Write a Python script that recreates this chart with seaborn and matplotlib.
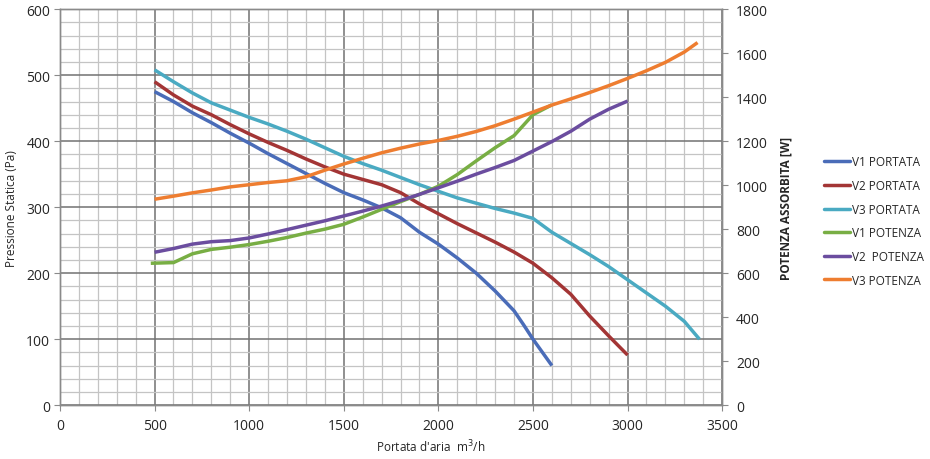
import numpy as np
import pandas as pd
import matplotlib
matplotlib.use("Agg")
import matplotlib.pyplot as plt
import seaborn as sns
from matplotlib.ticker import MultipleLocator

# portata (m3/h) - pressione statica (Pa)
v1_portata_x = [500, 600, 700, 800, 900, 1000, 1100, 1200, 1300, 1400, 1500, 1600, 1700, 1800, 1900,
                2000, 2100, 2200, 2300, 2400, 2450, 2500, 2600]
v1_portata_y = [475, 460, 443, 428, 412, 397, 381, 366, 351, 336, 322, 311, 299, 284, 262,
                244, 223, 200, 173, 143, 122, 100, 60]

v2_portata_x = [500, 600, 700, 800, 900, 1000, 1100, 1200, 1300, 1400, 1500, 1600, 1700, 1800, 1900,
                2000, 2100, 2200, 2300, 2400, 2500, 2600, 2700, 2800, 2900, 3000]
v2_portata_y = [490, 470, 453, 440, 425, 411, 398, 386, 373, 361, 350, 342, 334, 322, 305,
                290, 275, 261, 247, 232, 215, 193, 168, 135, 105, 76]

v3_portata_x = [500, 600, 700, 800, 900, 1000, 1100, 1200, 1300, 1400, 1500, 1600, 1700, 1800, 1900,
                2000, 2100, 2200, 2300, 2400, 2500, 2600, 2700, 2800, 2900, 3000, 3100, 3200, 3300, 3380]
v3_portata_y = [508, 490, 473, 458, 447, 436, 426, 415, 403, 390, 377, 366, 356, 345, 334,
                324, 314, 306, 298, 291, 283, 262, 245, 228, 210, 190, 170, 150, 127, 100]

# portata (m3/h) - potenza assorbita (W)
v1_potenza_x = [480, 600, 700, 800, 900, 1000, 1100, 1200, 1300, 1400, 1500, 1600, 1700, 1800, 1900,
                2000, 2100, 2200, 2300, 2400, 2500, 2600]
v1_potenza_y = [645, 648, 688, 708, 718, 730, 745, 762, 782, 800, 822, 855, 890, 925, 958,
                995, 1048, 1110, 1170, 1225, 1320, 1365]

v2_potenza_x = [500, 600, 700, 800, 900, 1000, 1100, 1200, 1300, 1400, 1500, 1600, 1700, 1800, 1900,
                2000, 2100, 2200, 2300, 2400, 2500, 2600, 2700, 2800, 2900, 3000]
v2_potenza_y = [695, 712, 732, 743, 748, 760, 778, 798, 818, 838, 860, 882, 905, 930, 958,
                988, 1018, 1050, 1080, 1112, 1155, 1198, 1245, 1300, 1345, 1382]

v3_potenza_x = [500, 600, 700, 800, 900, 1000, 1100, 1200, 1300, 1400, 1500, 1600, 1700, 1800, 1900,
                2000, 2100, 2200, 2300, 2400, 2500, 2600, 2700, 2800, 2900, 3000, 3100, 3200, 3300, 3370]
v3_potenza_y = [936, 950, 965, 978, 992, 1002, 1012, 1020, 1038, 1068, 1096, 1122, 1147, 1168, 1187,
                1203, 1222, 1244, 1270, 1300, 1332, 1364, 1392, 1421, 1452, 1485, 1520, 1558, 1605, 1648]

sns.set_style("white")
plt.rcParams['font.family'] = ['Open Sans', 'DejaVu Sans']

fig = plt.figure(figsize=(9.3, 4.6), dpi=100)
ax = fig.add_axes([0.0645, 0.117, 0.712, 0.861])
ax2 = ax.twinx()

# griglia
ax.xaxis.set_major_locator(MultipleLocator(500))
ax.xaxis.set_minor_locator(MultipleLocator(100))
ax.yaxis.set_major_locator(MultipleLocator(100))
ax.yaxis.set_minor_locator(MultipleLocator(20))
ax.grid(which='minor', color='#c4c4c4', linewidth=0.9)
ax.grid(which='major', color='#727272', linewidth=1.1)
ax.set_axisbelow(True)

ax.set_xlim(0, 3500)
ax.set_ylim(0, 600)
ax2.set_ylim(0, 1800)
ax2.yaxis.set_major_locator(MultipleLocator(200))

colori = {
    'V1 PORTATA': '#4a6cb8',
    'V2 PORTATA': '#a33535',
    'V3 PORTATA': '#4aaac2',
    'V1 POTENZA': '#78ae44',
    'V2  POTENZA': '#6b4d9f',
    'V3 POTENZA': '#ee7d30',
}

stile = dict(linewidth=2.5, solid_joinstyle='round', solid_capstyle='butt')
sns.lineplot(x=v1_portata_x, y=v1_portata_y, ax=ax, color=colori['V1 PORTATA'], **stile)
sns.lineplot(x=v2_portata_x, y=v2_portata_y, ax=ax, color=colori['V2 PORTATA'], **stile)
sns.lineplot(x=v3_portata_x, y=v3_portata_y, ax=ax, color=colori['V3 PORTATA'], **stile)
sns.lineplot(x=v1_potenza_x, y=v1_potenza_y, ax=ax2, color=colori['V1 POTENZA'], **stile)
sns.lineplot(x=v2_potenza_x, y=v2_potenza_y, ax=ax2, color=colori['V2  POTENZA'], **stile)
sns.lineplot(x=v3_potenza_x, y=v3_potenza_y, ax=ax2, color=colori['V3 POTENZA'], **stile)

for a in (ax, ax2):
    for s in a.spines.values():
        s.set_color('#8a8a8a')
        s.set_linewidth(1.0)
    a.tick_params(which='major', length=4, color='#8a8a8a', labelsize=10, pad=3)
    a.tick_params(which='minor', length=0)

ax.tick_params(axis='y', left=True, direction='out')
ax.tick_params(axis='x', bottom=True, direction='out', pad=5)
ax2.tick_params(axis='y', right=True, direction='out', labelsize=10, pad=6)

ax.set_ylabel('Pressione Statica (Pa)', fontsize=8.5, labelpad=6)
ax.set_xlabel("Portata d'aria  m$^3$/h", fontsize=8.5)
ax.xaxis.set_label_coords(0.56, -0.082)
ax2.set_ylabel('POTENZA ASSORBITA [W]', fontsize=8.5, fontweight='bold', labelpad=8)

handles = [plt.Line2D([], [], color=c, linewidth=2.5) for c in colori.values()]
fig.legend(handles, list(colori.keys()), loc='upper left', bbox_to_anchor=(0.875, 0.683),
           frameon=False, fontsize=8.5, handlelength=2.2, handletextpad=0.1, labelspacing=0.9)

plt.savefig('out.png', dpi=100)
